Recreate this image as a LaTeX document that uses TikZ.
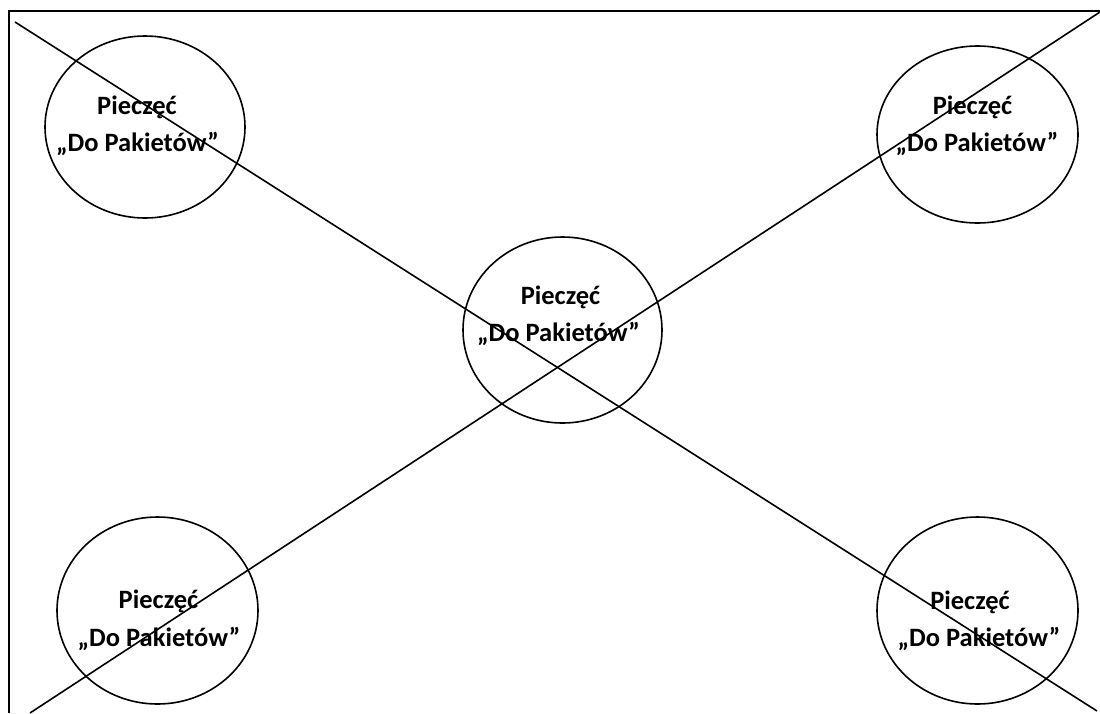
\documentclass[tikz,border=0pt]{standalone}
\usepackage{fontspec}
\setmainfont{Carlito}
\usetikzlibrary{shapes.geometric}
\tikzset{
  stamp/.style={ellipse, draw, line width=1.6pt, inner sep=0pt},
  stamptext/.style={anchor=base, inner sep=0pt, font=\fontsize{26.5}{30}\selectfont\bfseries},
  frameline/.style={line width=1.9pt},
  crossline/.style={line width=1.6pt}
}
\begin{document}
\begin{tikzpicture}[x=1pt,y=-1pt]
\useasboundingbox (0,0) rectangle (1100,713);
% frame
\coordinate (fbl) at (9,713);
\coordinate (ftl) at (9,11);
\coordinate (ftr) at (1100,11);
\draw[frameline] (fbl) -- (ftl) -- (ftr);
% stamps
\node[stamp, minimum width=200pt, minimum height=182pt] (tl) at (145,127) {};
\node[stamp, minimum width=201pt, minimum height=177pt] (tr) at (977.5,134.5) {};
\node[stamp, minimum width=199pt, minimum height=186pt] (c) at (562.5,330) {};
\node[stamp, minimum width=201pt, minimum height=187pt] (bl) at (157.5,610.5) {};
\node[stamp, minimum width=201pt, minimum height=187pt] (br) at (977.5,610.5) {};
% texts
\node[stamptext] (tla) at (137,114.5) {Pieczęć};
\node[stamptext] (tlb) at (137.5,151.5) {„Do Pakietów”};
\node[stamptext] (tra) at (972.5,114.5) {Pieczęć};
\node[stamptext] (trb) at (977,151.5) {„Do Pakietów”};
\node[stamptext] (ca) at (560.5,304.5) {Pieczęć};
\node[stamptext] (cb) at (558.5,341.5) {„Do Pakietów”};
\node[stamptext] (bla) at (158.5,608.5) {Pieczęć};
\node[stamptext] (blb) at (159,646.5) {„Do Pakietów”};
\node[stamptext] (bra) at (970,609.5) {Pieczęć};
\node[stamptext] (brb) at (979,646.5) {„Do Pakietów”};
% cross
\coordinate (d1s) at (15,22);
\coordinate (d1e) at (1097,711);
\coordinate (d2s) at (1100,12);
\coordinate (d2e) at (30,713);
\draw[crossline] (d1s) -- (d1e);
\draw[crossline] (d2s) -- (d2e);
\end{tikzpicture}
\end{document}
